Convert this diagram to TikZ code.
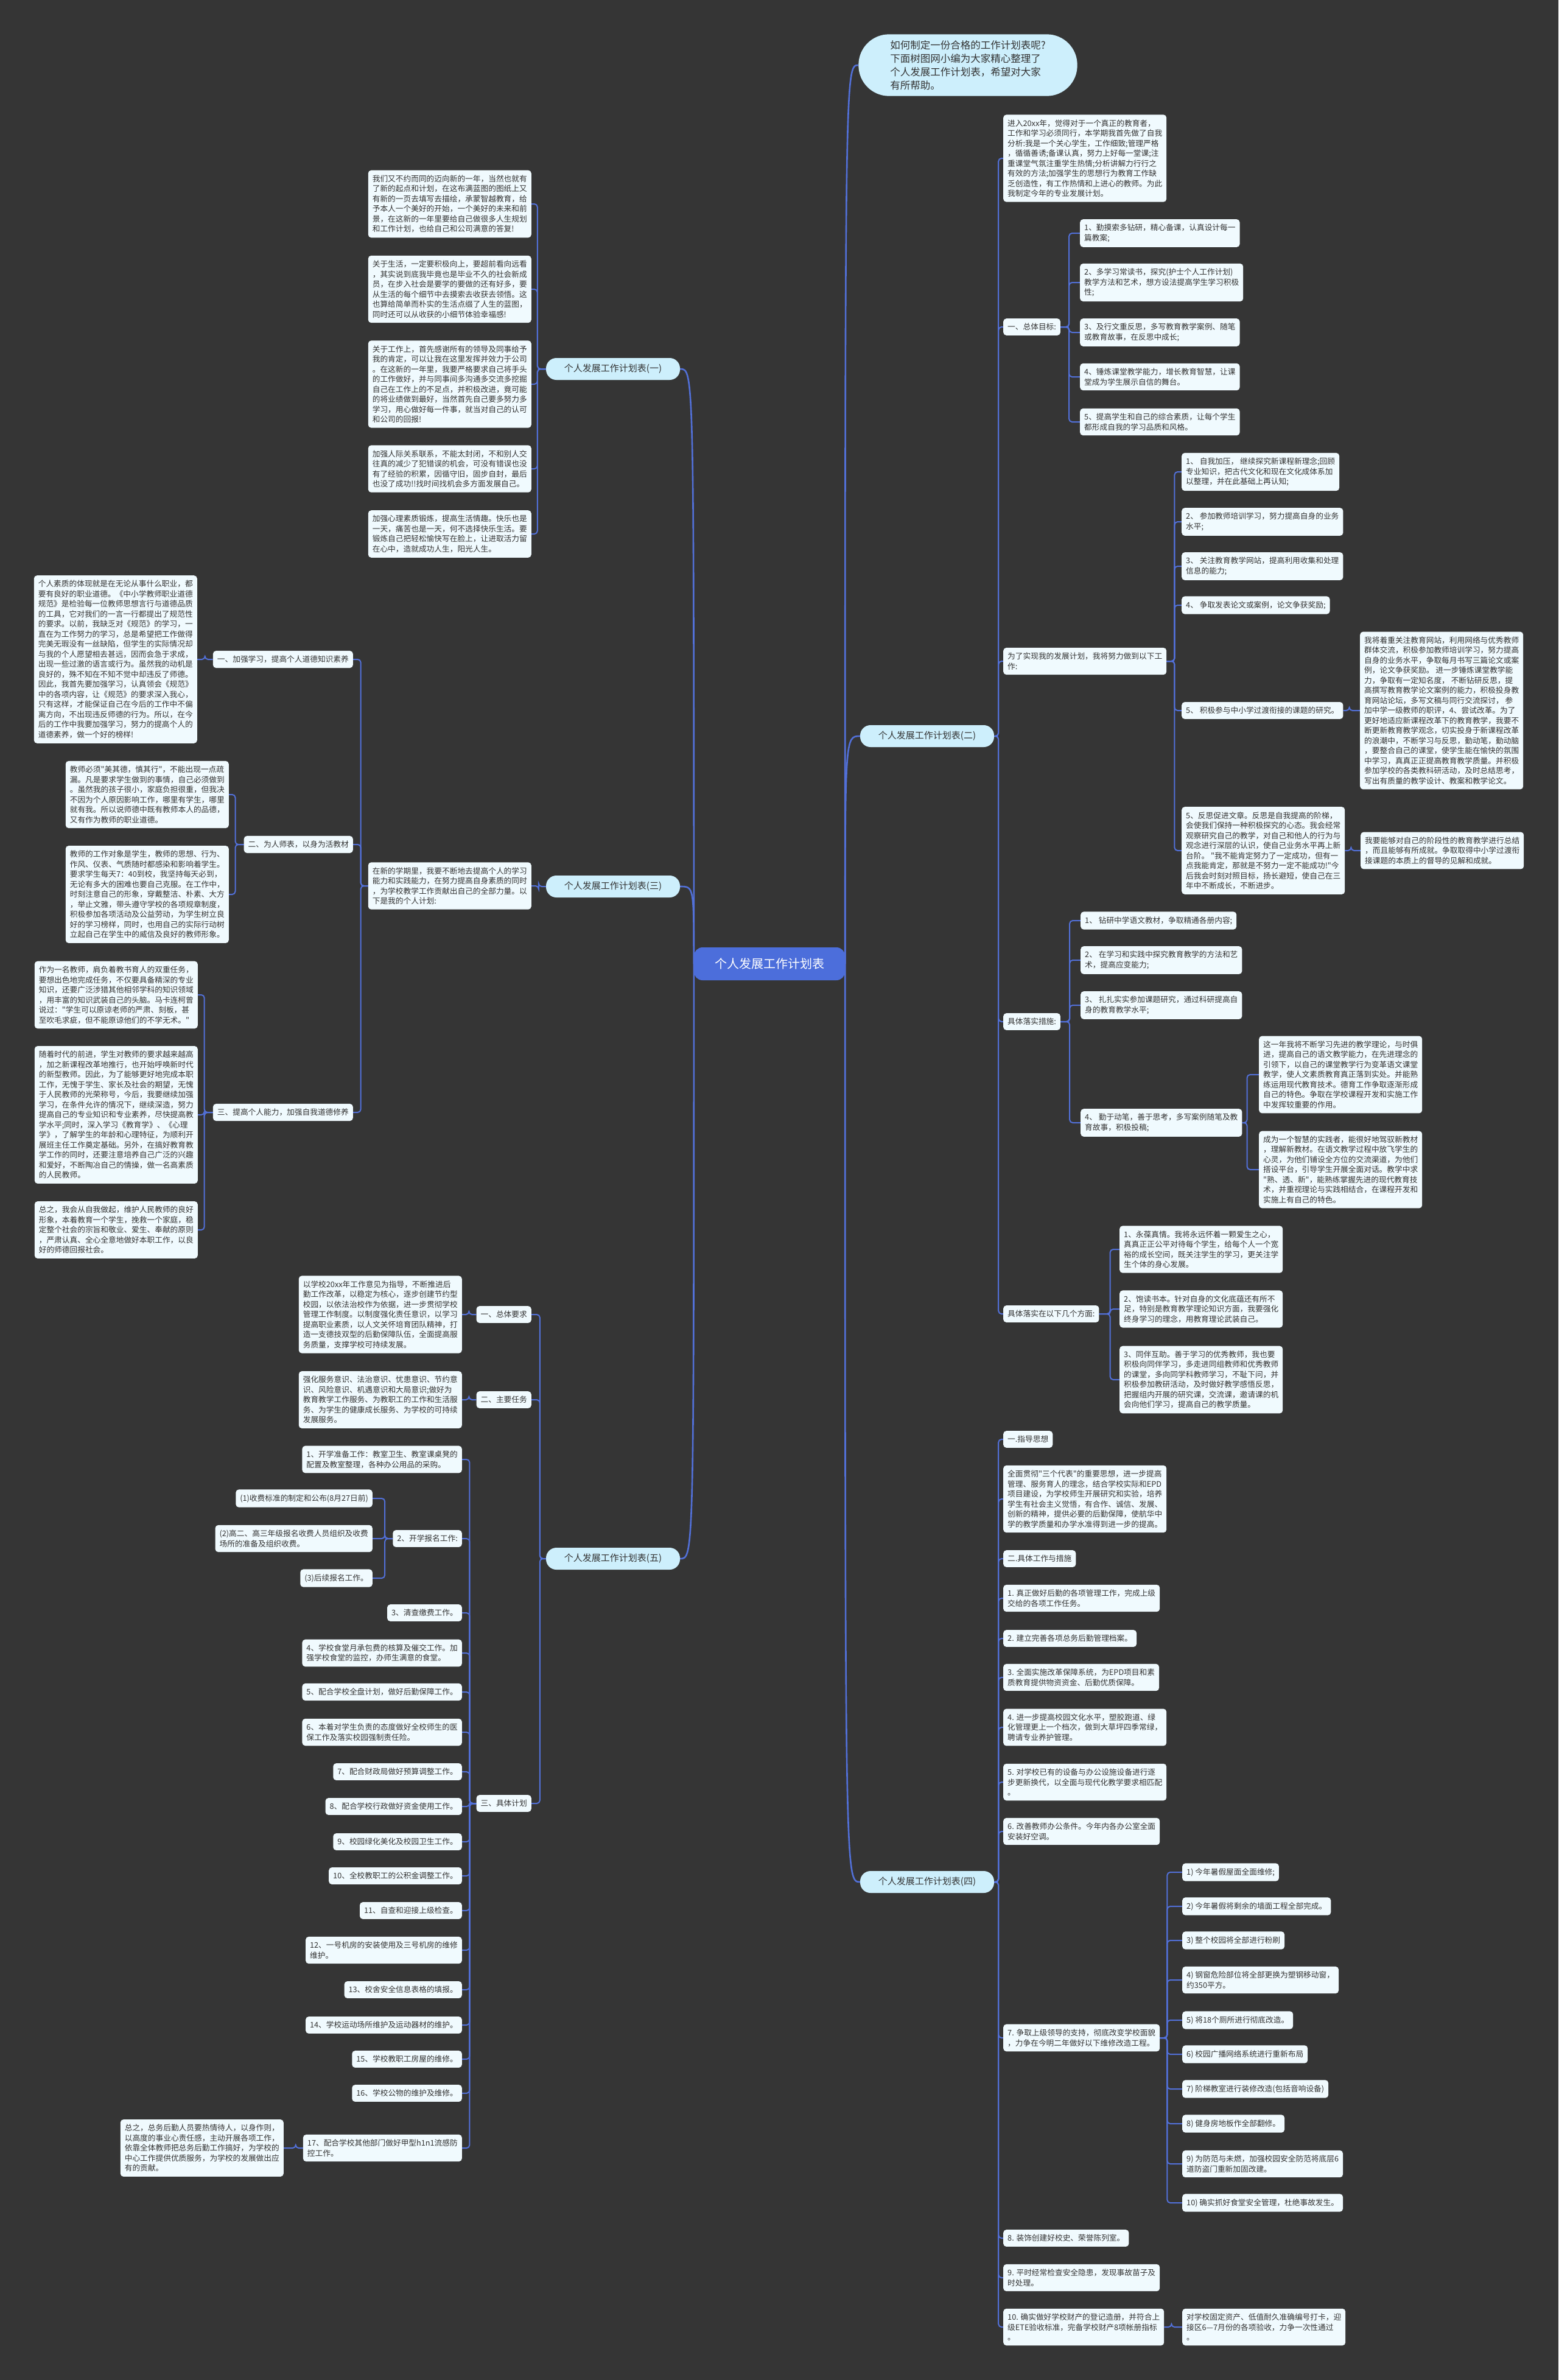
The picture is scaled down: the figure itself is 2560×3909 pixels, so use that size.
\documentclass[tikz,border=0pt]{standalone}
\usepackage{fontspec}
\newfontfamily\cjk{Noto Sans CJK SC}
\usetikzlibrary{calc}
\definecolor{bgc}{HTML}{353535}
\definecolor{boxc}{HTML}{F0FAFE}
\definecolor{linkc}{HTML}{5270D8}
\definecolor{rootc}{HTML}{4C6EDB}
\definecolor{mainc}{HTML}{CDEFFC}
\definecolor{txtc}{HTML}{333333}
\pgfdeclarelayer{bg}
\pgfdeclarelayer{lines}
\pgfsetlayers{bg,lines,main}

\begin{document}
\begin{tikzpicture}[x=1pt, y=-1pt, font=\cjk\fontsize{12.7}{16.5}\selectfont]
  \tikzset{box/.style={fill=boxc, text=txtc, rounded corners=5pt, align=left, inner xsep=7pt, inner ysep=8pt},
    rb/.style={box, anchor=west}, lb/.style={box, anchor=east},
    branch/.style={fill=mainc, text=txtc, rounded corners=17pt, minimum width=220pt, minimum height=36pt, font=\cjk\fontsize{15}{18}\selectfont},
    link/.style={draw=linkc, line width=2pt},
    trunk/.style={draw=linkc, line width=2.6pt},
    elbow/.style={link, rounded corners=5pt, to path={-- ++(#1,0) |- (\tikztotarget)}}}
  \useasboundingbox (0,0) rectangle (2560,3909);
  \begin{pgfonlayer}{bg}
    \fill[bgc] (0,0) rectangle (2560,3909);
  \end{pgfonlayer}

  \node[fill=rootc, text=white, rounded corners=14pt, minimum width=248pt, minimum height=54pt, font=\cjk\fontsize{20}{24}\selectfont] (root) at (1264,1583) {个人发展工作计划表};
  \node[fill=mainc, text=txtc, rounded corners=50pt, align=left, inner xsep=52pt, inner ysep=10pt, font=\cjk\fontsize{16.5}{22}\selectfont] (intro) at (1590,107) {如何制定一份合格的工作计划表呢?\\下面树图网小编为大家精心整理了\\个人发展工作计划表，希望对大家\\有所帮助。};

  % (一)
  \node[branch] (n1) at (1007,606) {个人发展工作计划表(一)};
  \node[lb] (y1) at (873,335) {我们又不约而同的迈向新的一年，当然也就有\\了新的起点和计划，在这布满蓝图的图纸上又\\有新的一页去填写去描绘，承蒙智越教育，给\\予本人一个美好的开始，一个美好的未来和前\\景，在这新的一年里要给自己做很多人生规划\\和工作计划，也给自己和公司满意的答复!};
  \node[lb] (y2) at (873,475) {关于生活，一定要积极向上，要超前看向远看\\，其实说到底我毕竟也是毕业不久的社会新成\\员，在步入社会是要学的要做的还有好多，要\\从生活的每个细节中去摸索去收获去领悟。这\\也算给简单而朴实的生活点缀了人生的蓝图，\\同时还可以从收获的小细节体验幸福感!};
  \node[lb] (y3) at (873,631) {关于工作上，首先感谢所有的领导及同事给予\\我的肯定，可以让我在这里发挥并效力于公司\\。在这新的一年里，我要严格要求自己将手头\\的工作做好，并与同事间多沟通多交流多挖掘\\自己在工作上的不足点，并积极改进，竟可能\\的将业绩做到最好，当然首先自己要多努力多\\学习，用心做好每一件事，就当对自己的认可\\和公司的回报!};
  \node[lb] (y4) at (873,770) {加强人际关系联系，不能太封闭，不和别人交\\往真的减少了犯错误的机会，可没有错误也没\\有了经验的积累，因循守旧，固步自封，最后\\也没了成功!!找时间找机会多方面发展自己。};
  \node[lb] (y5) at (873,877) {加强心理素质锻炼，提高生活情趣。快乐也是\\一天，痛苦也是一天，何不选择快乐生活。要\\锻炼自己把轻松愉快写在脸上，让进取活力留\\在心中，造就成功人生，阳光人生。};

  % (二)
  \node[branch] (n2) at (1523,1209) {个人发展工作计划表(二)};
  \node[rb] (jr) at (1648,260) {进入20xx年，觉得对于一个真正的教育者，\\工作和学习必须同行，本学期我首先做了自我\\分析:我是一个关心学生，工作细致;管理严格\\，循循善诱;备课认真，努力上好每一堂课;注\\重课堂气氛注重学生热情;分析讲解力行行之\\有效的方法;加强学生的思想行为教育工作缺\\乏创造性，有工作热情和上进心的教师。为此\\我制定今年的专业发展计划。};
  \node[rb] (zt) at (1648,537) {一、总体目标:};
  \node[rb] (zt1) at (1774,383) {1、勤摸索多钻研，精心备课，认真设计每一\\篇教案;};
  \node[rb] (zt2) at (1774,464) {2、多学习常读书，探究(护士个人工作计划)\\教学方法和艺术，想方设法提高学生学习积极\\性;};
  \node[rb] (zt3) at (1774,546) {3、及行文重反思，多写教育教学案例、随笔\\或教育故事，在反思中成长;};
  \node[rb] (zt4) at (1774,619) {4、锤炼课堂教学能力，增长教育智慧，让课\\堂成为学生展示自信的舞台。};
  \node[rb] (zt5) at (1774,693) {5、提高学生和自己的综合素质，让每个学生\\都形成自我的学习品质和风格。};
  \node[rb] (sx) at (1648,1086) {为了实现我的发展计划，我将努力做到以下工\\作:};
  \node[rb] (sx1) at (1941,775) {1、 自我加压， 继续探究新课程新理念;回顾\\专业知识，把古代文化和现在文化成体系加\\以整理，并在此基础上再认知;};
  \node[rb] (sx2) at (1941,857) {2、 参加教师培训学习，努力提高自身的业务\\水平;};
  \node[rb] (sx3) at (1941,930) {3、 关注教育教学网站，提高利用收集和处理\\信息的能力;};
  \node[rb] (sx4) at (1941,994) {4、 争取发表论文或案例，论文争获奖励;};
  \node[rb] (sx5) at (1941,1167) {5、 积极参与中小学过渡衔接的课题的研究。};
  \node[rb] (sx5r) at (2234,1167) {我将着重关注教育网站，利用网络与优秀教师\\群体交流，积极参加教师培训学习，努力提高\\自身的业务水平，争取每月书写三篇论文或案\\例，论文争获奖励。 进一步锤炼课堂教学能\\力，争取有一定知名度， 不断钻研反思，提\\高撰写教育教学论文案例的能力，积极投身教\\育网站论坛，多写文稿与同行交流探讨， 参\\加中学一级教师的职评，4、尝试改革。为了\\更好地适应新课程改革下的教育教学，我要不\\断更新教育教学观念，切实投身于新课程改革\\的浪潮中，不断学习与反思，勤动笔，勤动脑\\，要整合自己的课堂，使学生能在愉快的氛围\\中学习，真真正正提高教育教学质量。并积极\\参加学校的各类教科研活动，及时总结思考，\\写出有质量的教学设计、教案和教学论文。};
  \node[rb] (sx6) at (1941,1397) {5、反思促进文章。反思是自我提高的阶梯，\\会使我们保持一种积极探究的心态。我会经常\\观察研究自己的教学，对自己和他人的行为与\\观念进行深层的认识，使自己业务水平再上新\\台阶。 "我不能肯定努力了一定成功，但有一\\点我能肯定，那就是不努力一定不能成功!"今\\后我会时刻对照目标，扬长避短，使自己在三\\年中不断成长，不断进步。};
  \node[rb] (sx6r) at (2235,1397) {我要能够对自己的阶段性的教育教学进行总结\\，而且能够有所成就。争取取得中小学过渡衔\\接课题的本质上的督导的见解和成就。};
  \node[rb] (cs) at (1648,1678) {具体落实措施:};
  \node[rb] (cs1) at (1775,1512) {1、 钻研中学语文教材，争取精通各册内容;};
  \node[rb] (cs2) at (1775,1577) {2、 在学习和实践中探究教育教学的方法和艺\\术，提高应变能力;};
  \node[rb] (cs3) at (1775,1651) {3、 扎扎实实参加课题研究，通过科研提高自\\身的教育教学水平;};
  \node[rb] (cs4) at (1775,1844) {4、 勤于动笔，善于思考，多写案例随笔及教\\育故事，积极投稿;};
  \node[rb] (cs4a) at (2068,1765) {这一年我将不断学习先进的教学理论，与时俱\\进，提高自己的语文教学能力，在先进理念的\\引领下，以自己的课堂教学行为变革语文课堂\\教学，使人文素质教育真正落到实处。并能熟\\练运用现代教育技术。德育工作争取逐渐形成\\自己的特色。争取在学校课程开发和实施工作\\中发挥较重要的作用。};
  \node[rb] (cs4b) at (2068,1921) {成为一个智慧的实践者，能很好地驾驭新教材\\，理解新教材。在语文教学过程中放飞学生的\\心灵，为他们铺设全方位的交流渠道，为他们\\搭设平台，引导学生开展全面对话。教学中求\\"熟、透、新"，能熟练掌握先进的现代教育技\\术，并重视理论与实践相结合，在课程开发和\\实施上有自己的特色。};
  \node[rb] (fm) at (1648,2158) {具体落实在以下几个方面:};
  \node[rb] (fm1) at (1839,2052) {1、永葆真情。我将永远怀着一颗爱生之心，\\真真正正公平对待每个学生，给每个人一个宽\\裕的成长空间，既关注学生的学习，更关注学\\生个体的身心发展。};
  \node[rb] (fm2) at (1839,2150) {2、饱读书本。针对自身的文化底蕴还有所不\\足，特别是教育教学理论知识方面，我要强化\\终身学习的理念，用教育理论武装自己。};
  \node[rb] (fm3) at (1839,2266) {3、同伴互助。善于学习的优秀教师，我也要\\积极向同伴学习，多走进同组教师和优秀教师\\的课堂，多向同学科教师学习，不耻下问，并\\积极参加教研活动，及时做好教学感悟反思，\\把握组内开展的研究课，交流课，邀请课的机\\会向他们学习，提高自己的教学质量。};

  % (三)
  \node[branch] (n3) at (1007,1456) {个人发展工作计划表(三)};
  \node[lb] (xq) at (873,1455) {在新的学期里，我要不断地去提高个人的学习\\能力和实践能力，在努力提高自身素质的同时\\，为学校教学工作贡献出自己的全部力量。以\\下是我的个人计划:};
  \node[lb] (a1) at (580,1083) {一、加强学习，提高个人道德知识素养};
  \node[lb] (a1t) at (324,1083) {个人素质的体现就是在无论从事什么职业，都\\要有良好的职业道德。《中小学教师职业道德\\规范》是检验每一位教师思想言行与道德品质\\的工具，它对我们的一言一行都提出了规范性\\的要求。以前，我缺乏对《规范》的学习，一\\直在为工作努力的学习，总是希望把工作做得\\完美无瑕没有一丝缺陷，但学生的实际情况却\\与我的个人愿望相去甚远，因而会急于求成，\\出现一些过激的语言或行为。虽然我的动机是\\良好的，殊不知在不知不觉中却违反了师德。\\因此，我首先要加强学习，认真领会《规范》\\中的各项内容，让《规范》的要求深入我心，\\只有这样，才能保证自己在今后的工作中不偏\\离方向，不出现违反师德的行为。所以，在今\\后的工作中我要加强学习，努力的提高个人的\\道德素养，做一个好的榜样!};
  \node[lb] (a2) at (580,1387) {二、为人师表，以身为活教材};
  \node[lb] (a2t1) at (376,1305) {教师必须"美其德，慎其行"，不能出现一点疏\\漏。凡是要求学生做到的事情，自己必须做到\\。虽然我的孩子很小，家庭负担很重，但我决\\不因为个人原因影响工作，哪里有学生，哪里\\就有我。所以说师德中既有教师本人的品德，\\又有作为教师的职业道德。};
  \node[lb] (a2t2) at (376,1469) {教师的工作对象是学生，教师的思想、行为、\\作风、仪表、气质随时都感染和影响着学生。\\要求学生每天7：40到校，我坚持每天必到，\\无论有多大的困难也要自己克服。在工作中，\\时刻注意自己的形象，穿戴整洁、朴素、大方\\，举止文雅，带头遵守学校的各项规章制度，\\积极参加各项活动及公益劳动，为学生树立良\\好的学习榜样，同时，也用自己的实际行动树\\立起自己在学生中的威信及良好的教师形象。};
  \node[lb] (a3) at (580,1827) {三、提高个人能力，加强自我道德修养};
  \node[lb] (a3t1) at (325,1634) {作为一名教师，肩负着教书育人的双重任务，\\要想出色地完成任务，不仅要具备精深的专业\\知识，还要广泛涉猎其他相邻学科的知识领域\\，用丰富的知识武装自己的头脑。马卡连柯曾\\说过："学生可以原谅老师的严肃、刻板，甚\\至吹毛求疵，但不能原谅他们的不学无术。"};
  \node[lb] (a3t2) at (325,1831) {随着时代的前进，学生对教师的要求越来越高\\，加之新课程改革地推行，也开始呼唤新时代\\的新型教师。因此，为了能够更好地完成本职\\工作，无愧于学生、家长及社会的期望，无愧\\于人民教师的光荣称号，今后，我要继续加强\\学习，在条件允许的情况下，继续深造，努力\\提高自己的专业知识和专业素养，尽快提高教\\学水平;同时，深入学习《教育学》、《心理\\学》，了解学生的年龄和心理特征，为顺利开\\展班主任工作奠定基础。另外，在搞好教育教\\学工作的同时，还要注意培养自己广泛的兴趣\\和爱好，不断陶冶自己的情操，做一名高素质\\的人民教师。};
  \node[lb] (a3t3) at (325,2020) {总之，我会从自我做起，维护人民教师的良好\\形象，本着教育一个学生，挽救一个家庭，稳\\定整个社会的宗旨和敬业、爱生、奉献的原则\\，严肃认真、全心全意地做好本职工作，以良\\好的师德回报社会。};

  % (五)
  \node[branch] (n5) at (1007,2560) {个人发展工作计划表(五)};
  \node[lb] (b1) at (873,2159) {一、总体要求};
  \node[lb] (b1t) at (759,2159) {以学校20xx年工作意见为指导，不断推进后\\勤工作改革，以稳定为核心，逐步创建节约型\\校园，以依法治校作为依据，进一步贯彻学校\\管理工作制度。以制度强化责任意识，以学习\\提高职业素质，以人文关怀培育团队精神，打\\造一支德技双型的后勤保障队伍，全面提高服\\务质量，支撑学校可持续发展。};
  \node[lb] (b2) at (873,2299) {二、主要任务};
  \node[lb] (b2t) at (759,2299) {强化服务意识、法治意识、忧患意识、节约意\\识、风险意识、机遇意识和大局意识;做好为\\教育教学工作服务、为教职工的工作和生活服\\务、为学生的健康成长服务、为学校的可持续\\发展服务。};
  \node[lb] (b3) at (873,2962) {三、具体计划};
  \node[lb] (c1) at (759,2397) {1、开学准备工作：教室卫生、教室课桌凳的\\配置及教室整理，各种办公用品的采购。};
  \node[lb] (c2) at (759,2527) {2、开学报名工作:};
  \node[lb] (d1) at (612,2461) {(1)收费标准的制定和公布(8月27日前)};
  \node[lb] (d2) at (612,2527) {(2)高二、高三年级报名收费人员组织及收费\\场所的准备及组织收费。};
  \node[lb] (d3) at (612,2592) {(3)后续报名工作。};
  \node[lb] (c3) at (759,2649) {3、清查缴费工作。};
  \node[lb] (c4) at (759,2715) {4、学校食堂月承包费的核算及催交工作。加\\强学校食堂的监控，办师生满意的食堂。};
  \node[lb] (c5) at (759,2779) {5、配合学校全盘计划，做好后勤保障工作。};
  \node[lb] (c6) at (759,2845) {6、本着对学生负责的态度做好全校师生的医\\保工作及落实校园强制责任险。};
  \node[lb] (c7) at (759,2910) {7、配合财政局做好预算调整工作。};
  \node[lb] (c8) at (759,2967) {8、配合学校行政做好资金使用工作。};
  \node[lb] (c9) at (759,3025) {9、校园绿化美化及校园卫生工作。};
  \node[lb] (c10) at (759,3081) {10、全校教职工的公积金调整工作。};
  \node[lb] (c11) at (759,3138) {11、自查和迎接上级检查。};
  \node[lb] (c12) at (759,3203) {12、一号机房的安装使用及三号机房的维修\\维护。};
  \node[lb] (c13) at (759,3268) {13、校舍安全信息表格的填报。};
  \node[lb] (c14) at (759,3326) {14、学校运动场所维护及运动器材的维护。};
  \node[lb] (c15) at (759,3382) {15、学校教职工房屋的维修。};
  \node[lb] (c16) at (759,3438) {16、学校公物的维护及维修。};
  \node[lb] (c17) at (759,3528) {17、配合学校其他部门做好甲型h1n1流感防\\控工作。};
  \node[lb] (zz) at (466,3528) {总之，总务后勤人员要热情待人，以身作则，\\以高度的事业心责任感，主动开展各项工作，\\依靠全体教师把总务后勤工作搞好，为学校的\\中心工作提供优质服务，为学校的发展做出应\\有的贡献。};

  % (四)
  \node[branch] (n4) at (1523,3091) {个人发展工作计划表(四)};
  \node[rb] (zd) at (1648,2364) {一.指导思想};
  \node[rb] (zdt) at (1648,2462) {全面贯彻"三个代表"的重要思想，进一步提高\\管理、服务育人的理念，结合学校实际和EPD\\项目建设，为学校师生开展研究和实验，培养\\学生有社会主义觉悟，有合作、诚信、发展、\\创新的精神，提供必要的后勤保障，使航华中\\学的教学质量和办学水准得到进一步的提高。};
  \node[rb] (jt) at (1648,2560) {二.具体工作与措施};
  \node[rb] (w1) at (1648,2625) {1. 真正做好后勤的各项管理工作，完成上级\\交给的各项工作任务。};
  \node[rb] (w2) at (1648,2691) {2. 建立完善各项总务后勤管理档案。};
  \node[rb] (w3) at (1648,2755) {3. 全面实施改革保障系统，为EPD项目和素\\质教育提供物资资金、后勤优质保障。};
  \node[rb] (w4) at (1648,2837) {4. 进一步提高校园文化水平，塑胶跑道、绿\\化管理更上一个档次，做到大草坪四季常绿，\\聘请专业养护管理。};
  \node[rb] (w5) at (1648,2927) {5. 对学校已有的设备与办公设施设备进行逐\\步更新换代，以全面与现代化教学要求相匹配\\。};
  \node[rb] (w6) at (1648,3008) {6. 改善教师办公条件。今年内各办公室全面\\安装好空调。};
  \node[rb] (w7) at (1648,3347) {7. 争取上级领导的支持，彻底改变学校面貌\\，力争在今明二年做好以下维修改造工程。};
  \node[rb] (v1) at (1942,3075) {1) 今年暑假屋面全面维修;};
  \node[rb] (v2) at (1942,3131) {2) 今年暑假将剩余的墙面工程全部完成。};
  \node[rb] (v3) at (1942,3187) {3) 整个校园将全部进行粉刷};
  \node[rb] (v4) at (1942,3252) {4) 钢窗危险部位将全部更换为塑钢移动窗，\\约350平方。};
  \node[rb] (v5) at (1942,3318) {5) 将18个厕所进行彻底改造。};
  \node[rb] (v6) at (1942,3374) {6) 校园广播网络系统进行重新布局};
  \node[rb] (v7) at (1942,3431) {7) 阶梯教室进行装修改造(包括音响设备)};
  \node[rb] (v8) at (1942,3488) {8) 健身房地板作全部翻修。};
  \node[rb] (v9) at (1942,3554) {9) 为防范与未燃，加强校园安全防范将底层6\\道防盗门重新加固改建。};
  \node[rb] (v10) at (1942,3618) {10) 确实抓好食堂安全管理，杜绝事故发生。};
  \node[rb] (w8) at (1648,3676) {8. 装饰创建好校史、荣誉陈列室。};
  \node[rb] (w9) at (1648,3741) {9. 平时经常检查安全隐患，发现事故苗子及\\时处理。};
  \node[rb] (w10) at (1648,3822) {10. 确实做好学校财产的登记造册，并符合上\\级ETE验收标准，完备学校财产8项帐册指标\\。};
  \node[rb] (w10r) at (1942,3822) {对学校固定资产、低值耐久准确编号打卡，迎\\接区6—7月份的各项验收，力争一次性通过\\。};

  \begin{pgfonlayer}{lines}
    % curves out of the root
    \foreach \c in {intro,n2,n4} \draw[trunk] (root.east) .. controls (root.east |- \c.west) .. (\c.west);
    \foreach \c in {n1,n3,n5} \draw[trunk] (root.west) .. controls (root.west |- \c.east) .. (\c.east);
    % left side
    \foreach \c in {y1,y2,y3,y4,y5} \draw[elbow=-14] (n1.west) to (\c.east);
    \draw[elbow=-12] (n3.west) to (xq.east);
    \foreach \c in {a1,a2,a3} \draw[elbow=-12] (xq.west) to (\c.east);
    \draw[elbow=-13] (a1.west) to (a1t.east);
    \foreach \c in {a2t1,a2t2} \draw[elbow=-14] (a2.west) to (\c.east);
    \foreach \c in {a3t1,a3t2,a3t3} \draw[elbow=-14] (a3.west) to (\c.east);
    \foreach \c in {b1,b2,b3} \draw[elbow=-10] (n5.west) to (\c.east);
    \draw[elbow=-12] (b1.west) to (b1t.east);
    \draw[elbow=-12] (b2.west) to (b2t.east);
    \foreach \c in {c1,c2,c3,c4,c5,c6,c7,c8,c9,c10,c11,c12,c13,c14,c15,c16,c17} \draw[elbow=-11] (b3.west) to (\c.east);
    \foreach \c in {d1,d2,d3} \draw[elbow=-13] (c2.west) to (\c.east);
    \draw[elbow=-12] (c17.west) to (zz.east);
    % right side
    \foreach \c in {jr,zt,sx,cs,fm} \draw[elbow=7] (n2.east) to (\c.west);
    \foreach \c in {zt1,zt2,zt3,zt4,zt5} \draw[elbow=14] (zt.east) to (\c.west);
    \foreach \c in {sx1,sx2,sx3,sx4,sx5,sx6} \draw[elbow=13] (sx.east) to (\c.west);
    \draw[elbow=10] (sx5.east) to (sx5r.west);
    \draw[elbow=10] (sx6.east) to (sx6r.west);
    \foreach \c in {cs1,cs2,cs3,cs4} \draw[elbow=15] (cs.east) to (\c.west);
    \foreach \c in {cs4a,cs4b} \draw[elbow=8] (cs4.east) to (\c.west);
    \foreach \c in {fm1,fm2,fm3} \draw[elbow=18] (fm.east) to (\c.west);
    \foreach \c in {zd,zdt,jt,w1,w2,w3,w4,w5,w6,w7,w8,w9,w10} \draw[elbow=7] (n4.east) to (\c.west);
    \foreach \c in {v1,v2,v3,v4,v5,v6,v7,v8,v9,v10} \draw[elbow=12] (w7.east) to (\c.west);
    \draw[elbow=12] (w10.east) to (w10r.west);
  \end{pgfonlayer}
\end{tikzpicture}
\end{document}
